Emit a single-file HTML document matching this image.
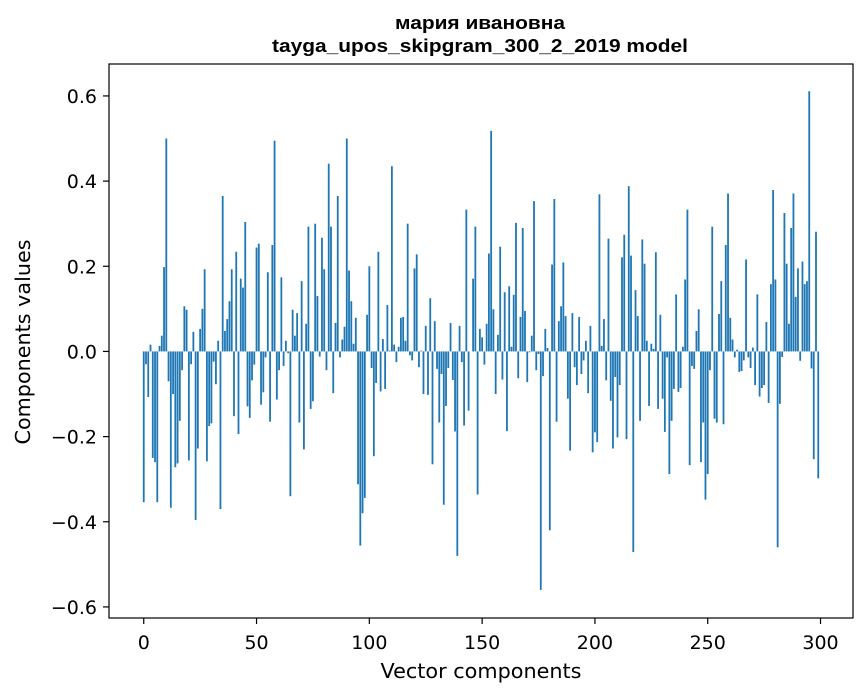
<!DOCTYPE html>
<html><head><meta charset="utf-8"><style>
body{margin:0;background:#fff;}
svg{display:block;font-family:"DejaVu Sans","Liberation Sans",sans-serif;}
.t{font-family:"Liberation Sans","DejaVu Sans",sans-serif;font-weight:bold;}
</style></head><body>
<svg id="chart" width="867" height="696" xmlns="http://www.w3.org/2000/svg">
<rect width="867" height="696" fill="#fff"/>
<text class="t" x="480" y="29" text-anchor="middle" font-size="18" textLength="170" lengthAdjust="spacingAndGlyphs">мария ивановна</text>
<text class="t" x="480" y="52" text-anchor="middle" font-size="18" textLength="416" lengthAdjust="spacingAndGlyphs">tayga_upos_skipgram_300_2_2019 model</text>
<g id="bars"></g>
<g id="xticks"></g>
<g id="yticks"></g>
<rect x="109" y="64" width="744" height="554" fill="none" stroke="#000" stroke-width="1.2"/>
<text x="481" y="678" text-anchor="middle" font-size="20" textLength="201" lengthAdjust="spacingAndGlyphs">Vector components</text>
<text transform="translate(30,342) rotate(-90)" text-anchor="middle" font-size="20" textLength="205" lengthAdjust="spacingAndGlyphs">Components values</text>
</svg>
<script>
const values = [-0.354,-0.03,-0.107,0.016,-0.25,-0.26,-0.354,0.013,0.037,0.198,0.50,-0.07,-0.367,-0.10,-0.272,-0.263,-0.163,-0.044,0.106,0.098,-0.256,-0.03,0.046,-0.396,-0.228,0.053,0.10,0.193,-0.258,-0.175,-0.169,-0.024,-0.077,0.025,-0.37,0.365,0.048,0.076,0.118,0.193,-0.152,0.234,-0.194,0.171,0.15,0.304,-0.129,-0.156,-0.068,-0.031,0.244,
0.253,-0.125,-0.096,-0.014,0.186,-0.165,0.25,0.495,-0.113,-0.044,0.174,-0.034,0.025,-0.004,-0.34,0.098,0.037,0.09,-0.167,0.165,-0.23,0.065,0.293,-0.135,-0.117,0.30,0.13,-0.012,0.267,0.193,-0.044,0.441,0.293,-0.098,0.067,0.365,-0.014,0.028,0.058,0.50,0.19,0.118,0.018,0.079,-0.312,-0.456,-0.38,-0.344,0.086,0.2,
-0.039,-0.246,-0.074,0.234,-0.094,0.029,-0.088,0.109,0.002,0.435,0.016,-0.025,0.011,0.079,0.081,0.025,0.30,-0.009,-0.021,0.195,0.228,-0.037,0.002,-0.1,0.06,-0.102,0.125,-0.265,0.071,-0.041,-0.167,-0.053,-0.36,-0.128,-0.039,0.067,-0.067,-0.188,-0.48,0.06,-0.025,-0.174,0.333,-0.139,0.0,0.171,0.293,-0.336,0.053,0.033,
-0.031,0.065,0.23,0.518,0.099,-0.1,0.039,0.246,-0.066,0.139,-0.187,0.153,0.011,0.133,0.302,-0.063,0.081,0.29,0.095,-0.072,-0.002,0.037,0.353,-0.044,-0.006,-0.56,-0.058,0.053,0.008,-0.42,0.204,0.358,-0.165,0.071,0.106,0.209,0.083,-0.111,-0.233,0.09,-0.037,-0.079,0.081,-0.053,-0.021,0.025,-0.098,0.06,-0.237,-0.19,-0.213,
0.369,0.013,0.076,-0.068,0.265,-0.116,-0.228,-0.06,-0.202,-0.079,0.221,0.274,-0.206,0.388,0.225,-0.471,0.144,0.083,-0.163,0.263,0.206,0.025,-0.128,0.018,0.006,0.233,-0.135,0.086,-0.111,-0.189,-0.014,-0.288,-0.163,-0.088,0.134,-0.095,-0.086,0.011,0.169,0.333,-0.267,-0.034,-0.041,0.048,0.099,-0.26,-0.167,-0.348,-0.288,-0.044,
0.293,-0.158,-0.167,0.088,0.165,-0.171,0.25,0.371,0.079,0.028,-0.014,0.004,-0.048,-0.046,-0.021,0.216,-0.014,-0.039,0.009,-0.079,0.134,-0.106,-0.086,-0.079,0.069,-0.121,0.158,0.379,0.169,-0.46,-0.123,-0.013,0.325,0.206,0.065,0.29,0.371,0.128,0.195,-0.022,0.211,0.158,0.165,0.611,-0.04,-0.253,0.281,-0.298];
const xTicks = [0,50,100,150,200,250,300];
const yTicks = [-0.6,-0.4,-0.2,0.0,0.2,0.4,0.6];
const yTickLabels = ["\u22120.6","\u22120.4","\u22120.2","0.0","0.2","0.4","0.6"];

const NS = "http://www.w3.org/2000/svg";
const PL = 109, PR = 853, PT = 64, PB = 618;
const XMIN = -15.4, XMAX = 314.4;
const YMIN = -0.626, YMAX = 0.675;
function xs(v){ return PL + (v - XMIN) / (XMAX - XMIN) * (PR - PL); }
function ys(v){ return PB - (v - YMIN) / (YMAX - YMIN) * (PB - PT); }

const bars = document.getElementById('bars');
values.forEach((v, i) => {
  const r = document.createElementNS(NS, 'rect');
  const x0 = xs(i - 0.4), x1 = xs(i + 0.4);
  const y0 = ys(Math.max(v, 0)), y1 = ys(Math.min(v, 0));
  r.setAttribute('x', x0);
  r.setAttribute('width', x1 - x0);
  r.setAttribute('y', y0);
  r.setAttribute('height', Math.max(y1 - y0, 0));
  r.setAttribute('fill', '#1f77b4');
  
  
  bars.appendChild(r);
});

const xg = document.getElementById('xticks');
xTicks.forEach(t => {
  const l = document.createElementNS(NS, 'line');
  l.setAttribute('x1', xs(t)); l.setAttribute('x2', xs(t));
  l.setAttribute('y1', PB); l.setAttribute('y2', PB + 6);
  l.setAttribute('stroke', '#000'); l.setAttribute('stroke-width', '1.2');
  
  
  xg.appendChild(l);
  const tx = document.createElementNS(NS, 'text');
  tx.setAttribute('x', xs(t)); tx.setAttribute('y', PB + 31);
  tx.setAttribute('text-anchor', 'middle'); tx.setAttribute('font-size', '19');
  tx.textContent = String(t);
  
  
  xg.appendChild(tx);
});

const yg = document.getElementById('yticks');
yTicks.forEach((t, i) => {
  const l = document.createElementNS(NS, 'line');
  l.setAttribute('x1', PL - 6); l.setAttribute('x2', PL);
  l.setAttribute('y1', ys(t)); l.setAttribute('y2', ys(t));
  l.setAttribute('stroke', '#000'); l.setAttribute('stroke-width', '1.2');
  
  
  yg.appendChild(l);
  const tx = document.createElementNS(NS, 'text');
  tx.setAttribute('x', PL - 12); tx.setAttribute('y', ys(t) + 7);
  tx.setAttribute('text-anchor', 'end'); tx.setAttribute('font-size', '19');
  tx.textContent = yTickLabels[i];
  
  
  yg.appendChild(tx);
});
</script>
</body></html>
